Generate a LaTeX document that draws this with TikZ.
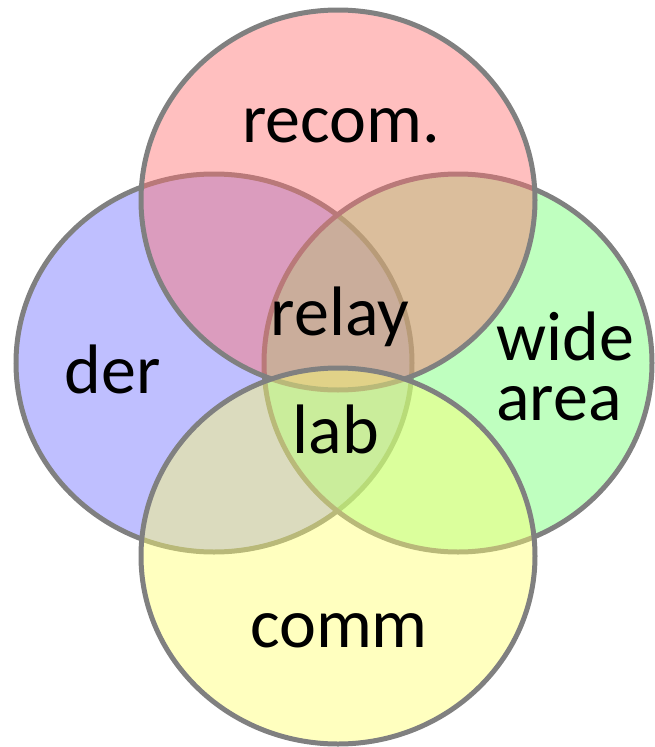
\documentclass[tikz,border=0pt]{standalone}
\usepackage{fontspec}
\setmainfont{Carlito}
\definecolor{rim}{RGB}{128,128,128}
\definecolor{setred}{RGB}{255,113,113}
\definecolor{setblue}{RGB}{127,127,255}
\definecolor{setgreen}{RGB}{127,255,127}
\definecolor{setyellow}{RGB}{255,255,113}
\begin{document}
\begin{tikzpicture}[x=1pt,y=-1pt,
  setfill/.style={fill=#1},
  rimline/.style={draw=rim, line width=5pt},
  lbl/.style={font=\fontsize{70}{70}\selectfont, inner sep=0pt, anchor=base, text=black}]
\useasboundingbox (0,0) rectangle (655,747);
% four overlapping sets, each tint laid over the ones below it
\fill[setfill=setblue, fill opacity=0.5] (214,363) ellipse [x radius=198pt, y radius=189pt];
\draw[rimline] (214,363) ellipse [x radius=198pt, y radius=189pt];
\fill[setfill=setgreen, fill opacity=0.5] (458,363) ellipse [x radius=194pt, y radius=189pt];
\draw[rimline] (458,363) ellipse [x radius=194pt, y radius=189pt];
\fill[setfill=setred, fill opacity=0.45] (338,200) ellipse [x radius=197pt, y radius=190pt];
\draw[rimline] (338,200) ellipse [x radius=197pt, y radius=190pt];
\fill[setfill=setyellow, fill opacity=0.45] (338,556) ellipse [x radius=197pt, y radius=188pt];
\draw[rimline] (338,556) ellipse [x radius=197pt, y radius=188pt];
% set labels
\node[lbl] (recom) at (341,142) {recom.};
\node[lbl] (relay) at (340,335) {relay};
\node[lbl] (der) at (113,393) {der};
\node[lbl, anchor=base west] (wide) at (496,360) {wide};
\node[lbl, anchor=base west] (area) at (496,420) {area};
\node[lbl] (lab) at (336,453) {lab};
\node[lbl] (comm) at (339,647) {comm};
\end{tikzpicture}
\end{document}
